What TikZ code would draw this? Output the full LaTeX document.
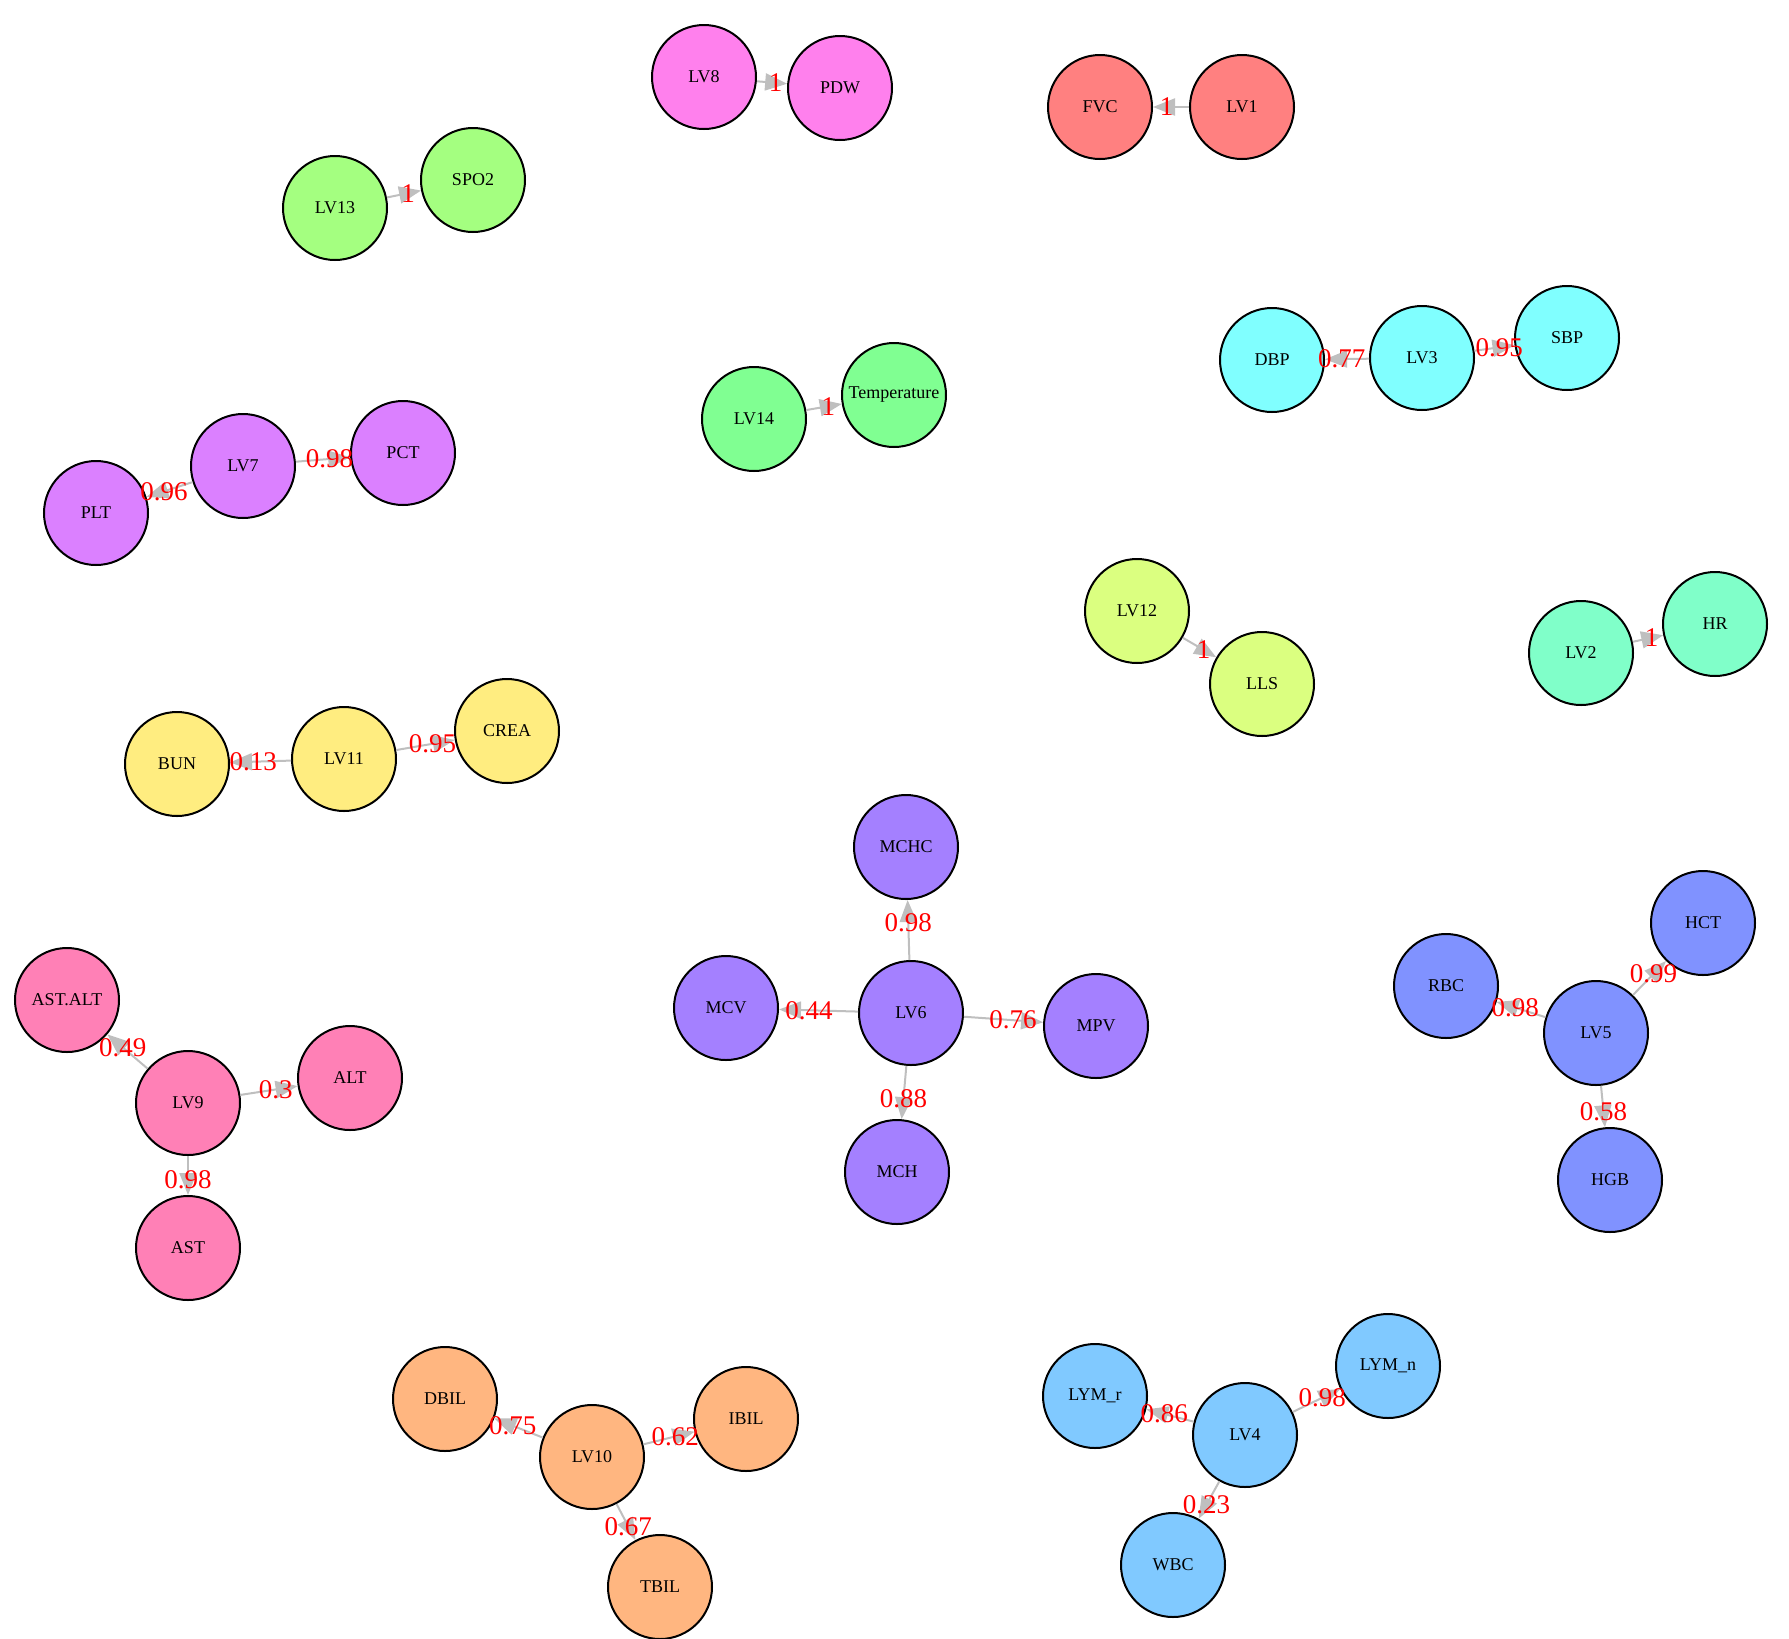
\documentclass[tikz,border=0pt]{standalone}
\usepackage{fontspec}
\setmainfont{Liberation Serif}
\usetikzlibrary{arrows.meta}
\definecolor{hue1}{RGB}{255,128,128}
\definecolor{hue2}{RGB}{128,255,201}
\definecolor{hue3}{RGB}{128,255,255}
\definecolor{hue4}{RGB}{128,201,255}
\definecolor{hue5}{RGB}{128,146,255}
\definecolor{hue6}{RGB}{164,128,255}
\definecolor{hue7}{RGB}{219,128,255}
\definecolor{hue8}{RGB}{255,128,237}
\definecolor{hue9}{RGB}{255,128,182}
\definecolor{hue10}{RGB}{255,182,128}
\definecolor{hue11}{RGB}{255,237,128}
\definecolor{hue12}{RGB}{219,255,128}
\definecolor{hue13}{RGB}{164,255,128}
\definecolor{hue14}{RGB}{128,255,146}
\definecolor{cinza}{RGB}{191,191,191}
\tikzset{
  circulo/.style={circle, draw=black, line width=2pt, minimum size=104pt,
                  inner sep=0pt, font=\fontsize{18}{18}\selectfont},
  carga/.style={-{Triangle[length=22pt,width=17pt]}, line width=2pt, draw=cinza, fill=cinza},
  peso/.style={pos=0.62, text=red, inner sep=0pt, font=\fontsize{27}{27}\selectfont},
}
\begin{document}
\begin{tikzpicture}[x=1pt, y=-1pt]
  \useasboundingbox (0,0) rectangle (1789,1639);

  % pares de um indicador
  \node[circulo, fill=hue8] (lv8) at (704,77) {LV8};
  \node[circulo, fill=hue8] (pdw) at (840,88) {PDW};
  \node[circulo, fill=hue1] (fvc) at (1100,107) {FVC};
  \node[circulo, fill=hue1] (lv1) at (1242,107) {LV1};
  \node[circulo, fill=hue13] (lv13) at (335,208) {LV13};
  \node[circulo, fill=hue13] (spo2) at (473,180) {SPO2};
  \node[circulo, fill=hue14] (lv14) at (754,419) {LV14};
  \node[circulo, fill=hue14] (temp) at (894,395) {Temperature};
  \node[circulo, fill=hue12] (lv12) at (1137,611) {LV12};
  \node[circulo, fill=hue12] (lls) at (1262,684) {LLS};
  \node[circulo, fill=hue2] (lv2) at (1581,653) {LV2};
  \node[circulo, fill=hue2] (hr) at (1715,624) {HR};

  % dois indicadores
  \node[circulo, fill=hue3] (dbp) at (1272,360) {DBP};
  \node[circulo, fill=hue3] (lv3) at (1422,358) {LV3};
  \node[circulo, fill=hue3] (sbp) at (1567,338) {SBP};
  \node[circulo, fill=hue7] (plt) at (96,513) {PLT};
  \node[circulo, fill=hue7] (lv7) at (243,466) {LV7};
  \node[circulo, fill=hue7] (pct) at (403,453) {PCT};
  \node[circulo, fill=hue11] (bun) at (177,764) {BUN};
  \node[circulo, fill=hue11] (lv11) at (344,759) {LV11};
  \node[circulo, fill=hue11] (crea) at (507,731) {CREA};

  % tres ou quatro indicadores
  \node[circulo, fill=hue6] (mchc) at (906,847) {MCHC};
  \node[circulo, fill=hue6] (mcv) at (726,1008) {MCV};
  \node[circulo, fill=hue6] (lv6) at (911,1013) {LV6};
  \node[circulo, fill=hue6] (mpv) at (1096,1026) {MPV};
  \node[circulo, fill=hue6] (mch) at (897,1172) {MCH};
  \node[circulo, fill=hue5] (hct) at (1703,923) {HCT};
  \node[circulo, fill=hue5] (rbc) at (1446,986) {RBC};
  \node[circulo, fill=hue5] (lv5) at (1596,1033) {LV5};
  \node[circulo, fill=hue5] (hgb) at (1610,1180) {HGB};
  \node[circulo, fill=hue9] (astalt) at (67,1000) {AST.ALT};
  \node[circulo, fill=hue9] (lv9) at (188,1103) {LV9};
  \node[circulo, fill=hue9] (alt) at (350,1078) {ALT};
  \node[circulo, fill=hue9] (ast) at (188,1248) {AST};
  \node[circulo, fill=hue10] (dbil) at (445,1399) {DBIL};
  \node[circulo, fill=hue10] (lv10) at (592,1457) {LV10};
  \node[circulo, fill=hue10] (ibil) at (746,1419) {IBIL};
  \node[circulo, fill=hue10] (tbil) at (660,1587) {TBIL};
  \node[circulo, fill=hue4] (lymr) at (1095,1396) {LYM\_r};
  \node[circulo, fill=hue4] (lv4) at (1245,1435) {LV4};
  \node[circulo, fill=hue4] (lymn) at (1388,1366) {LYM\_n};
  \node[circulo, fill=hue4] (wbc) at (1173,1565) {WBC};

  % cargas
  \draw[carga] (lv8) -- node[peso] {1} (pdw);
  \draw[carga] (lv1) -- node[peso] {1} (fvc);
  \draw[carga] (lv13) -- node[peso] {1} (spo2);
  \draw[carga] (lv14) -- node[peso] {1} (temp);
  \draw[carga] (lv12) -- node[peso] {1} (lls);
  \draw[carga] (lv2) -- node[peso] {1} (hr);
  \draw[carga] (lv3) -- node[peso] {0.77} (dbp);
  \draw[carga] (lv3) -- node[peso] {0.95} (sbp);
  \draw[carga] (lv7) -- node[peso] {0.96} (plt);
  \draw[carga] (lv7) -- node[peso] {0.98} (pct);
  \draw[carga] (lv11) -- node[peso] {0.13} (bun);
  \draw[carga] (lv11) -- node[peso] {0.95} (crea);
  \draw[carga] (lv6) -- node[peso] {0.98} (mchc);
  \draw[carga] (lv6) -- node[peso] {0.44} (mcv);
  \draw[carga] (lv6) -- node[peso] {0.76} (mpv);
  \draw[carga] (lv6) -- node[peso] {0.88} (mch);
  \draw[carga] (lv5) -- node[peso] {0.99} (hct);
  \draw[carga] (lv5) -- node[peso] {0.98} (rbc);
  \draw[carga] (lv5) -- node[peso] {0.58} (hgb);
  \draw[carga] (lv9) -- node[peso] {0.49} (astalt);
  \draw[carga] (lv9) -- node[peso] {0.3} (alt);
  \draw[carga] (lv9) -- node[peso] {0.98} (ast);
  \draw[carga] (lv10) -- node[peso] {0.75} (dbil);
  \draw[carga] (lv10) -- node[peso] {0.62} (ibil);
  \draw[carga] (lv10) -- node[peso] {0.67} (tbil);
  \draw[carga] (lv4) -- node[peso] {0.86} (lymr);
  \draw[carga] (lv4) -- node[peso] {0.98} (lymn);
  \draw[carga] (lv4) -- node[peso] {0.23} (wbc);
\end{tikzpicture}
\end{document}
